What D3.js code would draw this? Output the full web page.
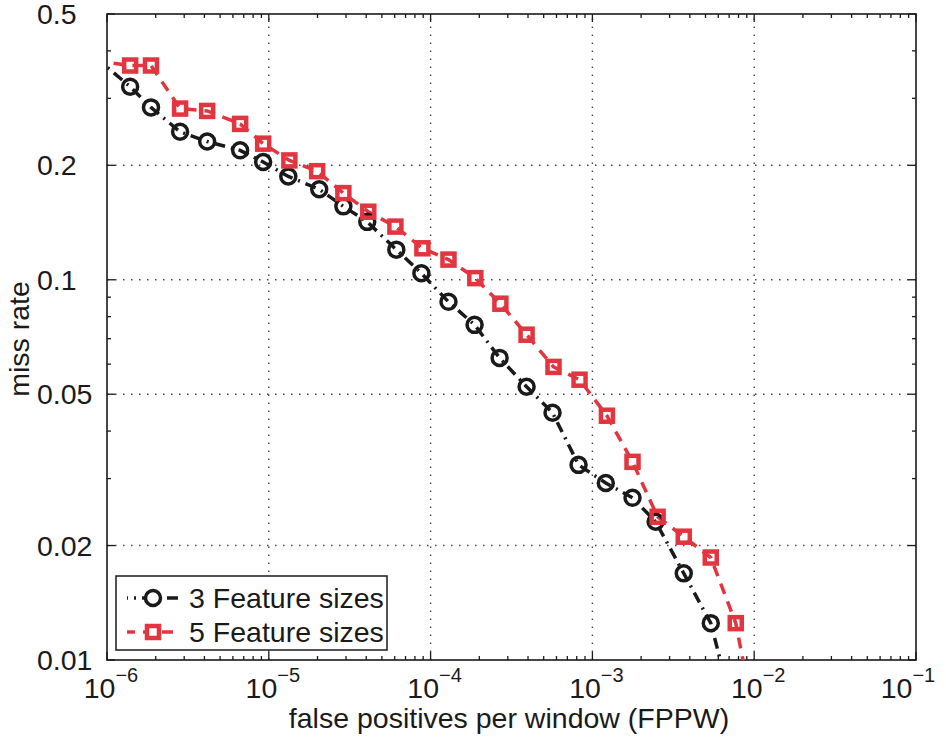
<!DOCTYPE html>
<html>
<head>
<meta charset="utf-8">
<script src="https://d3js.org/d3.v7.min.js"></script>
<style>
  body { margin: 0; background: #fff; }
  text { font-family: "Liberation Sans", Arial, sans-serif; fill: #1a1a1a; }
</style>
</head>
<body>
<svg width="946" height="739"></svg>
<script>
// data (first/last points lie outside the axes and get clipped)
var fppw3 = [8.4e-7, 1.39e-6, 1.87e-6, 2.83e-6, 4.16e-6, 6.65e-6, 9.23e-6, 1.32e-5, 2.05e-5, 2.89e-5, 4.06e-5,
             6.14e-5, 8.77e-5, 1.29e-4, 1.87e-4, 2.67e-4, 3.92e-4, 5.67e-4, 8.21e-4, 1.21e-3, 1.77e-3,
             2.46e-3, 3.67e-3, 5.39e-3, 7.48e-3];
var miss3 = [0.386, 0.322, 0.284, 0.245, 0.231, 0.219, 0.204, 0.187, 0.173, 0.156, 0.142,
             0.120, 0.104, 0.0875, 0.0761, 0.0623, 0.0523, 0.0447, 0.0326, 0.0292, 0.0267,
             0.0231, 0.0169, 0.0125, 0.0073];
var fppw5 = [8.4e-7, 1.39e-6, 1.87e-6, 2.83e-6, 4.16e-6, 6.65e-6, 9.23e-6, 1.34e-5, 1.99e-5, 2.89e-5, 4.12e-5,
             6.06e-5, 8.9e-5, 1.29e-4, 1.89e-4, 2.70e-4, 3.92e-4, 5.75e-4, 8.33e-4, 1.23e-3, 1.77e-3,
             2.53e-3, 3.67e-3, 5.39e-3, 7.69e-3, 9.53e-3];
var miss5 = [0.377, 0.366, 0.366, 0.282, 0.278, 0.257, 0.228, 0.206, 0.193, 0.169, 0.151,
             0.138, 0.121, 0.113, 0.101, 0.0865, 0.0717, 0.0590, 0.0546, 0.0439, 0.0332,
             0.0238, 0.0211, 0.0186, 0.0125, 0.00785];
var seriesNames = ["3 Feature sizes", "5 Feature sizes"];
var xTicks = [1e-6, 1e-5, 1e-4, 1e-3, 1e-2, 1e-1];
var xTickExp = ["\u22126", "\u22125", "\u22124", "\u22123", "\u22122", "\u22121"];
var yTicks = [0.01, 0.02, 0.05, 0.1, 0.2, 0.5];
var yTickLabels = ["0.01", "0.02", "0.05", "0.1", "0.2", "0.5"];

var mLeft = 107, mRight = 916, mTop = 14, mBottom = 660;
var red = "#e2353f", black = "#1a1a1a";
var fs = 28.5;

var svg = d3.select("svg");
var x = d3.scaleLog().domain([1e-6, 1e-1]).range([mLeft, mRight]);
var y = d3.scaleLog().domain([0.01, 0.5]).range([mBottom, mTop]);

svg.append("defs").append("clipPath").attr("id", "clip")
  .append("rect").attr("x", mLeft).attr("y", mTop).attr("width", mRight - mLeft).attr("height", mBottom - mTop);

// dotted grid
var grid = svg.append("g").attr("stroke", "#444").attr("stroke-width", 1.4).attr("stroke-dasharray", "1.5,6.5");
grid.selectAll(".gx").data(xTicks.slice(1, -1)).enter().append("line")
  .attr("x1", function(d) { return x(d); }).attr("x2", function(d) { return x(d); })
  .attr("y1", mBottom).attr("y2", mTop);
grid.selectAll(".gy").data(yTicks.slice(1, -1)).enter().append("line")
  .attr("y1", function(d) { return y(d); }).attr("y2", function(d) { return y(d); })
  .attr("x1", mLeft).attr("x2", mRight);

// minor ticks
var minorX = [], minorY = [];
xTicks.slice(0, -1).forEach(function(t) { for (var k = 2; k <= 9; k++) minorX.push(t * k); });
[0.01, 0.1].forEach(function(t) { for (var k = 2; k <= 9; k++) if (t * k <= 0.5 && yTicks.indexOf(+(t * k).toFixed(3)) < 0) minorY.push(t * k); });

var tk = svg.append("g").attr("stroke", black).attr("stroke-width", 1.3);
function vTicks(data, len) {
  tk.selectAll(null).data(data).enter().append("line")
    .attr("x1", function(d) { return x(d); }).attr("x2", function(d) { return x(d); })
    .attr("y1", mBottom).attr("y2", mBottom - len);
  tk.selectAll(null).data(data).enter().append("line")
    .attr("x1", function(d) { return x(d); }).attr("x2", function(d) { return x(d); })
    .attr("y1", mTop).attr("y2", mTop + len);
}
function hTicks(data, len) {
  tk.selectAll(null).data(data).enter().append("line")
    .attr("y1", function(d) { return y(d); }).attr("y2", function(d) { return y(d); })
    .attr("x1", mLeft).attr("x2", mLeft + len);
  tk.selectAll(null).data(data).enter().append("line")
    .attr("y1", function(d) { return y(d); }).attr("y2", function(d) { return y(d); })
    .attr("x1", mRight).attr("x2", mRight - len);
}
vTicks(minorX, 4); vTicks(xTicks, 8);
hTicks(minorY, 4); hTicks(yTicks, 8);

// frame
svg.append("rect").attr("x", mLeft).attr("y", mTop).attr("width", mRight - mLeft).attr("height", mBottom - mTop)
  .attr("fill", "none").attr("stroke", black).attr("stroke-width", 1.6);

// tick labels
var xl = svg.append("g").selectAll("text").data(xTicks).enter().append("text")
  .attr("x", function(d) { return Math.min(x(d) + 4, 908); }).attr("y", 698)
  .attr("text-anchor", "middle").attr("font-size", fs);
xl.append("tspan").text("10");
xl.append("tspan").attr("font-size", 20).attr("dy", -16).text(function(d, i) { return xTickExp[i]; });

svg.append("g").selectAll("text").data(yTicks).enter().append("text")
  .attr("x", 37).attr("y", function(d) { return y(d) + 10; })
  .attr("font-size", fs).text(function(d, i) { return yTickLabels[i]; });

// axis titles
svg.append("text").attr("x", 509).attr("y", 728).attr("text-anchor", "middle")
  .attr("font-size", fs).text("false positives per window (FPPW)");
svg.append("text").attr("transform", "translate(29,339) rotate(-90)").attr("text-anchor", "middle")
  .attr("font-size", fs).text("miss rate");

// curves
var plot = svg.append("g").attr("clip-path", "url(#clip)");
var line = d3.line().x(function(d) { return x(d[0]); }).y(function(d) { return y(d[1]); });
var pts3 = d3.zip(fppw3, miss3), pts5 = d3.zip(fppw5, miss5);
function inside(d) { return d[0] >= 1e-6 && d[1] >= 0.01; }

plot.append("path").datum(pts3).attr("d", line).attr("fill", "none")
  .attr("stroke", black).attr("stroke-width", 3.5).attr("stroke-dasharray", "11,6,2,6");
plot.append("path").datum(pts5).attr("d", line).attr("fill", "none")
  .attr("stroke", red).attr("stroke-width", 3.5).attr("stroke-dasharray", "11,8");

plot.selectAll(".c3").data(pts3.filter(inside)).enter().append("circle")
  .attr("cx", function(d) { return x(d[0]); }).attr("cy", function(d) { return y(d[1]); })
  .attr("r", 7.5).attr("fill", "none").attr("stroke", black).attr("stroke-width", 3.5);
plot.selectAll(".s5").data(pts5.filter(inside)).enter().append("rect")
  .attr("x", function(d) { return x(d[0]) - 6; }).attr("y", function(d) { return y(d[1]) - 6; })
  .attr("width", 12).attr("height", 12).attr("fill", "none").attr("stroke", red).attr("stroke-width", 4.5);

// legend
var lg = svg.append("g");
lg.append("rect").attr("x", 116).attr("y", 576).attr("width", 271).attr("height", 74)
  .attr("fill", "#fff").attr("stroke", black).attr("stroke-width", 1.5);
var rows = [{ name: seriesNames[0], color: black, dash: "11,6,2,6", mark: "circle", cy: 598 },
            { name: seriesNames[1], color: red, dash: "11,8", mark: "square", cy: 632 }];
rows.forEach(function(r) {
  lg.append("line").attr("x1", 127).attr("x2", 180).attr("y1", r.cy).attr("y2", r.cy)
    .attr("stroke", r.color).attr("stroke-width", 3.5).attr("stroke-dasharray", r.dash)
    .attr("stroke-dashoffset", r.mark === "circle" ? 10 : 3);
  if (r.mark === "circle") {
    lg.append("circle").attr("cx", 153).attr("cy", r.cy).attr("r", 7.5)
      .attr("fill", "#fff").attr("stroke", r.color).attr("stroke-width", 3.5);
  } else {
    lg.append("rect").attr("x", 147).attr("y", r.cy - 6).attr("width", 12).attr("height", 12)
      .attr("fill", "#fff").attr("stroke", r.color).attr("stroke-width", 4.5);
  }
  lg.append("text").attr("x", 189).attr("y", r.cy + 10).attr("font-size", fs).text(r.name);
});
</script>
</body>
</html>
